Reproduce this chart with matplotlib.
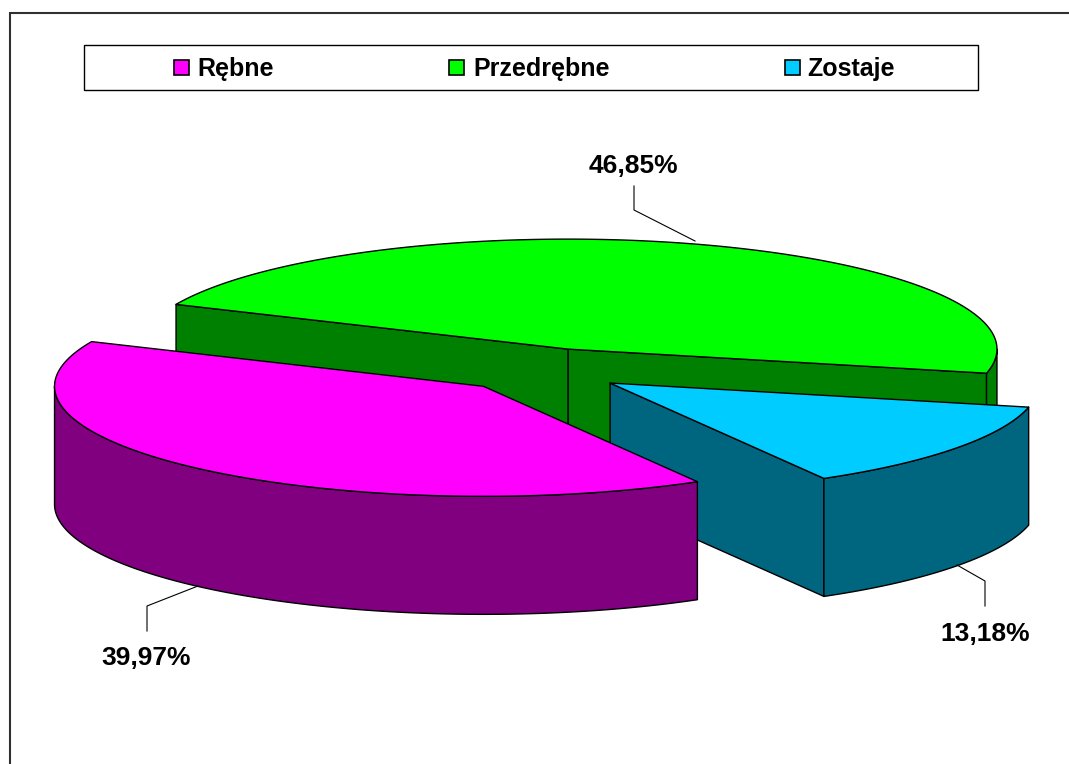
import numpy as np
import matplotlib
matplotlib.use('Agg')
import matplotlib.pyplot as plt
from matplotlib.patches import Polygon, Rectangle

plt.rcParams['font.family'] = ['Liberation Sans', 'DejaVu Sans']

categories = ['Rębne', 'Przedrębne', 'Zostaje']
shares = [39.97, 46.85, 13.18]
share_labels = ['39,97%', '46,85%', '13,18%']

top_colors = ['#FF00FF', '#00FF00', '#00CCFF']
side_colors = ['#800080', '#008000', '#006680']

# pie geometry in pixels
CX, CY = 541, 370
RX, RY = 429, 110
DEPTH = 118
EXPLODE = 0.2
START = 299.9

legend_swatch_x = [174, 449, 785]
legend_text_x = [197, 473, 807]
label_pos = [(146, 658), (633, 166), (985, 634)]
leaders = [
    [(147, 631), (147, 606), (198, 586)],
    [(634, 186), (634, 210), (695, 241)],
    [(985, 606), (985, 581), (957, 565)],
]


def point(center, t):
    t = np.radians(t)
    return center[0] + RX * np.cos(t), center[1] - RY * np.sin(t)


def arc(center, t1, t2):
    ts = np.radians(np.linspace(t1, t2, 200))
    return np.column_stack([center[0] + RX * np.cos(ts), center[1] - RY * np.sin(ts)])


def drop(pts):
    return pts + np.array([0, DEPTH])


def patch(ax, pts, color):
    ax.add_patch(Polygon(pts, closed=True, facecolor=color, edgecolor='black', linewidth=1.0, joinstyle='round'))


def radial_face(ax, center, t, color):
    a = np.array([center, point(center, t)])
    patch(ax, np.vstack([a, drop(a)[::-1]]), color)


def rim(ax, center, t1, t2, color):
    a = arc(center, t1, t2)
    patch(ax, np.vstack([a, drop(a)[::-1]]), color)


def top(ax, center, t1, t2, color):
    patch(ax, np.vstack([[center], arc(center, t1, t2)]), color)


fig = plt.figure(figsize=(10.69, 7.64), dpi=100)
ax = fig.add_axes([0, 0, 1, 1])
ax.set_xlim(0, 1069)
ax.set_ylim(764, 0)
ax.axis('off')

# chart frame runs off the picture on the right and at the bottom
ax.plot([9.5, 9.5, 1069], [764, 12.5, 12.5], color='#303030', lw=1.5, solid_joinstyle='miter')

# slices go clockwise from START
spans = []
angle = START
for s in shares:
    spans.append((angle - s * 3.6, angle))
    angle -= s * 3.6

centers = []
for t1, t2 in spans:
    mid = np.radians((t1 + t2) / 2)
    centers.append((CX + EXPLODE * RX * np.cos(mid), CY - EXPLODE * RY * np.sin(mid)))

# green at the back
t1, t2 = spans[1]
radial_face(ax, centers[1], t1, side_colors[1])
radial_face(ax, centers[1], t2, side_colors[1])
rim(ax, centers[1], t1, 0, side_colors[1])
top(ax, centers[1], t1, t2, top_colors[1])

# blue
t1, t2 = spans[2]
radial_face(ax, centers[2], t1, side_colors[2])
rim(ax, centers[2], t1, t2, side_colors[2])
top(ax, centers[2], t1, t2, top_colors[2])

# magenta in front, only the lower half of its rim shows
t1, t2 = spans[0]
rim(ax, centers[0], 180, t2, side_colors[0])
top(ax, centers[0], t1, t2, top_colors[0])

# legend
ax.add_patch(Rectangle((84, 45), 894, 45, facecolor='white', edgecolor='black', linewidth=1.0))
for i, name in enumerate(categories):
    ax.add_patch(Rectangle((legend_swatch_x[i], 60), 15, 15, facecolor=top_colors[i], edgecolor='black', linewidth=1.2))
    ax.text(legend_text_x[i], 69, name, fontsize=18, fontweight='bold', va='center', ha='left')

# data labels and leader lines
for i, txt in enumerate(share_labels):
    xs, ys = zip(*leaders[i])
    ax.plot(xs, ys, color='black', lw=0.8)
    ax.text(label_pos[i][0], label_pos[i][1], txt, fontsize=19, fontweight='bold', ha='center', va='center')

fig.savefig('out.png', dpi=100, facecolor='white')
